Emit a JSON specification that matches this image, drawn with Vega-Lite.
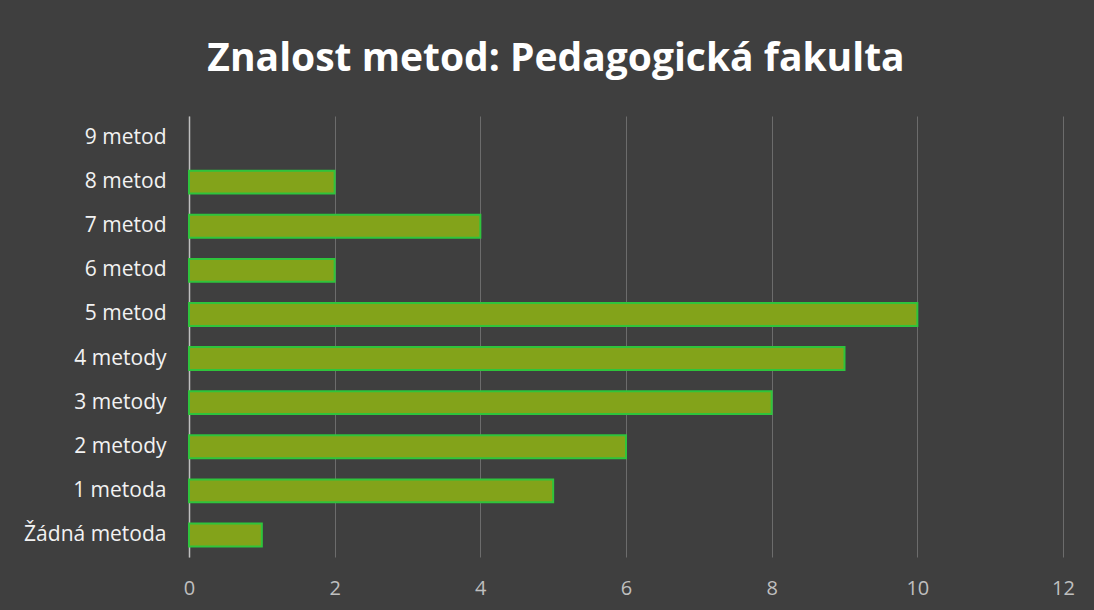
{
  "$schema": "https://vega.github.io/schema/vega-lite/v6.json",
  "autosize": "none",
  "width": 874,
  "height": 441,
  "padding": {"left": 189, "top": 116, "right": 31, "bottom": 54},
  "background": "#3f3f3f",
  "title": {
    "text": "Znalost metod: Pedagogická fakulta",
    "font": "Open Sans",
    "fontSize": 39,
    "fontWeight": "bold",
    "color": "#ffffff",
    "anchor": "middle",
    "frame": "group",
    "dx": -70,
    "offset": 37
  },
  "data": {
    "values": [
      {"kategorie": "9 metod", "pocet": 0},
      {"kategorie": "8 metod", "pocet": 2},
      {"kategorie": "7 metod", "pocet": 4},
      {"kategorie": "6 metod", "pocet": 2},
      {"kategorie": "5 metod", "pocet": 10},
      {"kategorie": "4 metody", "pocet": 9},
      {"kategorie": "3 metody", "pocet": 8},
      {"kategorie": "2 metody", "pocet": 6},
      {"kategorie": "1 metoda", "pocet": 5},
      {"kategorie": "Žádná metoda", "pocet": 1}
    ]
  },
  "mark": {"type": "bar", "fill": "#83a31a", "stroke": "#2fc43c", "strokeWidth": 2},
  "encoding": {
    "y": {
      "field": "kategorie",
      "type": "nominal",
      "sort": null,
      "title": null,
      "scale": {"paddingInner": 0.48, "paddingOuter": 0.24},
      "axis": {
        "labelFont": "Open Sans",
        "labelFontSize": 21,
        "labelColor": "#f2f2f2",
        "labelPadding": 23,
        "ticks": false,
        "domainColor": "#bfbfbf",
        "domainWidth": 1.5,
        "grid": false
      }
    },
    "x": {
      "field": "pocet",
      "type": "quantitative",
      "title": null,
      "scale": {"domain": [0, 12], "nice": false},
      "axis": {
        "values": [0, 2, 4, 6, 8, 10, 12],
        "labelFont": "Open Sans",
        "labelFontSize": 20,
        "labelColor": "#bfbfbf",
        "labelPadding": 21,
        "labelFlush": false,
        "ticks": false,
        "domain": false,
        "grid": true,
        "gridColor": "#8a8a8a",
        "gridOpacity": 0.6,
        "gridWidth": 1
      }
    },
    "strokeOpacity": {
      "condition": {"test": "datum.pocet > 0", "value": 1},
      "value": 0
    }
  },
  "config": {"view": {"stroke": null}}
}
